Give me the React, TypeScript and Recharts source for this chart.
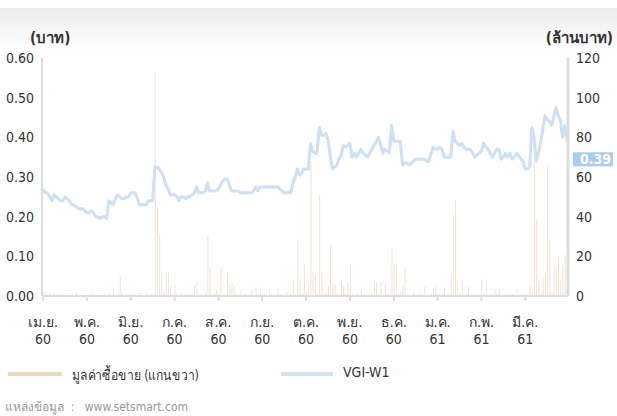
import React from "react"
import { ComposedChart, Bar, Line, XAxis, YAxis, ReferenceDot } from "recharts"

// one row per month, 20 trading days each
const monthLabels = ["เม.ย.", "พ.ค.", "มิ.ย.", "ก.ค.", "ส.ค.", "ก.ย.", "ต.ค.", "พ.ย.", "ธ.ค.", "ม.ค.", "ก.พ.", "มี.ค."]
const yearLabels = ["60", "60", "60", "60", "60", "60", "60", "60", "60", "61", "61", "61"]
const priceTicks = [0, 0.1, 0.2, 0.3, 0.4, 0.5, 0.6]
const valueTicks = [0, 20, 40, 60, 80, 100, 120]

// VGI-W1 close (baht)
const price = [
  0.27, 0.26, 0.26, 0.25, 0.24, 0.255, 0.25, 0.245, 0.24, 0.24, 0.25, 0.245, 0.24, 0.23, 0.23, 0.225, 0.22, 0.22, 0.22, 0.215,
  0.21, 0.21, 0.215, 0.21, 0.2, 0.2, 0.195, 0.2, 0.2, 0.195, 0.24, 0.235, 0.23, 0.245, 0.255, 0.25, 0.245, 0.245, 0.25, 0.25,
  0.26, 0.26, 0.26, 0.245, 0.23, 0.23, 0.23, 0.23, 0.24, 0.24, 0.24, 0.325, 0.325, 0.32, 0.31, 0.3, 0.28, 0.27, 0.255, 0.255,
  0.255, 0.25, 0.24, 0.25, 0.25, 0.245, 0.25, 0.25, 0.255, 0.26, 0.275, 0.26, 0.26, 0.26, 0.265, 0.285, 0.265, 0.265, 0.265, 0.265,
  0.27, 0.28, 0.29, 0.295, 0.295, 0.28, 0.265, 0.265, 0.265, 0.265, 0.26, 0.26, 0.26, 0.26, 0.26, 0.26, 0.265, 0.275, 0.265, 0.275,
  0.275, 0.275, 0.275, 0.275, 0.275, 0.275, 0.275, 0.275, 0.27, 0.265, 0.26, 0.26, 0.26, 0.26, 0.285, 0.3, 0.32, 0.305, 0.31, 0.32,
  0.32, 0.32, 0.385, 0.365, 0.36, 0.36, 0.425, 0.405, 0.405, 0.41, 0.395, 0.355, 0.32, 0.325, 0.33, 0.345, 0.355, 0.38, 0.375, 0.38,
  0.385, 0.35, 0.36, 0.35, 0.36, 0.37, 0.36, 0.355, 0.35, 0.36, 0.37, 0.38, 0.39, 0.4, 0.38, 0.36, 0.37, 0.365, 0.36, 0.43,
  0.39, 0.39, 0.39, 0.39, 0.33, 0.335, 0.335, 0.33, 0.335, 0.34, 0.345, 0.345, 0.345, 0.345, 0.345, 0.34, 0.34, 0.36, 0.375, 0.37,
  0.37, 0.375, 0.37, 0.35, 0.35, 0.35, 0.35, 0.415, 0.39, 0.385, 0.38, 0.385, 0.375, 0.37, 0.37, 0.37, 0.36, 0.35, 0.355, 0.36,
  0.365, 0.385, 0.375, 0.37, 0.36, 0.35, 0.36, 0.37, 0.37, 0.345, 0.35, 0.36, 0.35, 0.36, 0.345, 0.35, 0.36, 0.355, 0.345, 0.34,
  0.32, 0.32, 0.325, 0.425, 0.4, 0.34, 0.36, 0.385, 0.42, 0.455, 0.445, 0.44, 0.43, 0.45, 0.475, 0.455, 0.445, 0.4, 0.43, 0.39,
]

// trading value (million baht)
const volume = [
  1.5, 2.5, 0.5, 1, 0.3, 1.5, 0.5, 0.3, 1, 0.3, 0.5, 0.2, 0.3, 1.5, 0.3, 2, 0.5, 0.3, 0.2, 0.5,
  0.3, 0.5, 1, 0.3, 0.2, 0.5, 0.3, 0.5, 1, 0.3, 1.5, 0.5, 4.5, 0.5, 1, 10.5, 2, 0.5, 0.3, 0.5,
  1, 0.5, 0.3, 0.5, 1.5, 0.5, 0.3, 2, 0.5, 1, 0.5, 113, 45, 31, 12, 2, 12, 12, 5, 1,
  5.5, 1, 0.5, 1.5, 0.5, 0.3, 1, 0.5, 0.3, 5.5, 7.5, 0.5, 1, 0.5, 2, 30.7, 14.8, 1, 1.5, 3,
  1, 15, 1, 0.5, 12, 6, 7, 5, 1, 0.5, 3, 0.5, 1, 0.3, 1, 3, 0.5, 4.5, 1, 2.5,
  0.5, 1, 0.3, 4, 1, 0.5, 0.3, 4, 1, 0.5, 0.3, 2, 0.5, 1, 8.5, 1, 28, 9, 1, 16,
  2, 6, 68, 12, 10.5, 1, 51, 12, 1, 2, 5, 25.7, 6, 6, 1, 0.5, 8, 5, 1, 6.5,
  15.6, 1, 0.5, 2, 0.5, 3.5, 1, 0.5, 1, 0.3, 1, 7.5, 7.5, 1, 7.5, 0.5, 6, 1, 0.5, 23.7,
  16.5, 15.6, 1, 2, 5, 14.8, 1, 0.5, 0.3, 2, 0.5, 0.3, 1, 0.5, 4.5, 0.3, 0.5, 1, 4, 4.5,
  1, 0.5, 1, 4, 0.5, 0.3, 11.4, 41, 48, 8, 1, 8, 0.5, 1, 5, 0.5, 0.3, 1, 0.5, 0.3,
  8.5, 1, 7, 0.5, 1, 0.5, 3.5, 1, 3.5, 0.5, 0.3, 1, 0.5, 0.3, 1, 0.5, 3.5, 0.3, 0.5, 1,
  0.5, 1, 5, 2, 68, 39, 7.5, 1, 9, 11.5, 65, 28.5, 2, 15.6, 14, 19.8, 8.5, 15.6, 20.7, 64,
]

const lastPrice = 0.39
const DAYS_PER_MONTH = 20

const FONT = '"Liberation Sans Narrow", "DejaVu Sans Condensed", Roboto, sans-serif'
const LINE_COLOR = "#cde0f5"
const BAR_COLOR = "#f4e2cf"
const AXIS_COLOR = "#dddddd"

const data = price.map((p, i) => ({ i, price: p, volume: volume[i] }))

function MonthTick({ x, y, payload }: any) {
  const m = Math.floor(payload.value / DAYS_PER_MONTH)
  return (
    <g transform={`translate(${x},${y})`}>
      <text textAnchor="middle" fill="#333" fontSize={14} fontFamily={FONT}>
        <tspan x={0} dy={24}>{monthLabels[m]}</tspan>
        <tspan x={0} dy={17}>{yearLabels[m]}</tspan>
      </text>
    </g>
  )
}

function LastPriceLabel({ viewBox }: any) {
  const { x, y } = viewBox
  return (
    <g>
      <rect x={x + 6} y={y + 11} width={40} height={14} fill="#a9cbee" />
      <text x={x + 13} y={y + 23} fill="#fff" fontSize={14} fontWeight="bold" fontFamily={FONT}>
        {lastPrice.toFixed(2)}
      </text>
    </g>
  )
}

export default function App() {
  return (
    <div style={{ position: "absolute", left: 0, top: 0, width: 617, height: 416, background: "#fff", overflow: "hidden", fontFamily: FONT }}>
      <div style={{ position: "absolute", left: 0, top: 8, width: 617, height: 44, background: "linear-gradient(#ececec, #ffffff)" }} />
      <div style={{ position: "absolute", left: 30, top: 26, fontSize: 15, fontWeight: "bold", color: "#333" }}>(บาท)</div>
      <div style={{ position: "absolute", right: 4, top: 26, fontSize: 15, fontWeight: "bold", color: "#333" }}>(ล้านบาท)</div>
      <div style={{ position: "absolute", left: 0, top: 0 }}>
        <ComposedChart width={617} height={360} data={data} margin={{ top: 58, right: 0, left: 0, bottom: 20 }}>
          <XAxis
            dataKey="i"
            interval={DAYS_PER_MONTH - 1}
            height={44}
            axisLine={{ stroke: AXIS_COLOR, strokeWidth: 2 }}
            tickLine={{ stroke: AXIS_COLOR, strokeWidth: 2 }}
            tickSize={5}
            tick={<MonthTick />}
          />
          <YAxis
            yAxisId="left"
            domain={[0, 0.6]}
            ticks={priceTicks}
            width={42}
            tickFormatter={(v) => v.toFixed(2)}
            axisLine={{ stroke: AXIS_COLOR, strokeWidth: 2 }}
            tickLine={false}
            tick={{ fill: "#333", fontSize: 14, fontFamily: FONT }}
          />
          <YAxis
            yAxisId="right"
            orientation="right"
            domain={[0, 120]}
            ticks={valueTicks}
            width={49}
            axisLine={{ stroke: AXIS_COLOR, strokeWidth: 3 }}
            tickLine={false}
            tick={{ fill: "#333", fontSize: 14, fontFamily: FONT, textAnchor: "start" }}
          />
          <Bar yAxisId="right" dataKey="volume" fill={BAR_COLOR} barSize={1} isAnimationActive={false} />
          <Line
            yAxisId="left"
            dataKey="price"
            type="linear"
            stroke={LINE_COLOR}
            strokeWidth={3}
            dot={false}
            strokeLinejoin="round"
            isAnimationActive={false}
          />
          <ReferenceDot yAxisId="left" x={price.length - 1} y={lastPrice} r={0} label={<LastPriceLabel />} />
        </ComposedChart>
      </div>
      <div style={{ position: "absolute", left: 8, top: 372, width: 54, height: 4, background: "#ecd8c1" }} />
      <div style={{ position: "absolute", left: 72, top: 364, fontSize: 14, color: "#333", transform: "scaleX(0.87)", transformOrigin: "left" }}>
        มูลค่าซื้อขาย (แกนขวา)
      </div>
      <div style={{ position: "absolute", left: 281, top: 372, width: 52, height: 4, background: "#d3e2f3" }} />
      <div style={{ position: "absolute", left: 343, top: 364, fontSize: 14, color: "#333" }}>VGI-W1</div>
      <div style={{ position: "absolute", left: 5, top: 397, fontSize: 12, color: "#999", whiteSpace: "pre" }}>
        {"แหล่งข้อมูล  :   www.setsmart.com"}
      </div>
    </div>
  )
}
